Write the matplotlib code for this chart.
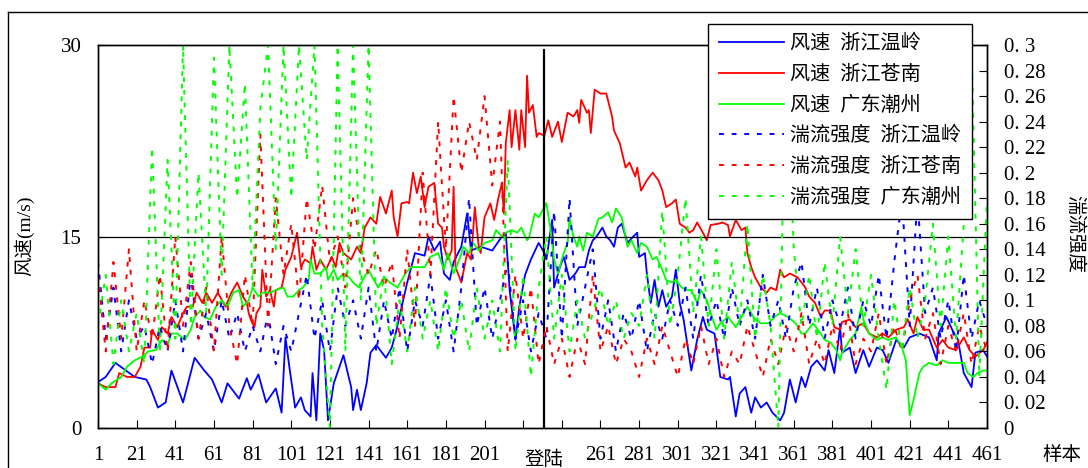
import numpy as np
import matplotlib
matplotlib.use("Agg")
import matplotlib.pyplot as plt
from matplotlib.lines import Line2D

plt.rcParams['font.family'] = ['Liberation Serif', 'Noto Sans CJK SC']

# wind speed (m/s), sample index -> value
wl_x = [1, 5, 10, 20, 26, 28, 32, 36, 39, 45, 51, 56, 60, 65, 68, 74, 78, 80, 84, 88,
        93, 96, 98, 100, 103, 106, 108, 111, 112, 114, 116, 118, 120, 123, 128, 132, 133, 135, 137, 140,
        142, 145, 150, 153, 155, 161, 165, 170, 172, 175, 178, 180, 183, 185, 189, 192, 194, 199, 205, 210,
        212, 214, 217, 219, 222, 225, 229, 232, 233, 236, 237, 240, 242, 245, 248, 250, 253, 255, 257, 259,
        262, 264, 266, 268, 270, 272, 275, 278, 280, 281, 284, 285, 287, 289, 291, 293, 295, 298, 300, 302,
        304, 308, 311, 314, 316, 320, 323, 327, 328, 331, 333, 336, 339, 341, 344, 347, 350, 354, 356, 359,
        362, 365, 367, 370, 373, 377, 379, 382, 385, 386, 390, 393, 397, 400, 404, 407, 410, 414, 418, 421,
        426, 431, 435, 436, 440, 443, 446, 449, 453, 455, 459, 461]
wl_v = [3.6, 4.0, 5.1, 4.0, 3.8, 3.2, 1.6, 2.0, 4.5, 2.0, 5.5, 4.5, 3.8, 2.0, 3.5, 2.3, 3.9, 3.0, 4.2, 2.0,
        3.1, 1.2, 7.1, 4.8, 1.6, 2.4, 1.4, 0.9, 4.3, 0.6, 7.4, 6.1, 0.6, 3.5, 5.7, 3.2, 1.4, 3.0, 1.4, 3.5,
        5.9, 6.5, 5.5, 6.3, 7.4, 11.4, 13.7, 13.5, 15.0, 13.9, 14.6, 12.1, 11.6, 13.0, 14.2, 16.8, 13.9, 14.2, 13.9, 15.0,
        15.3, 10.8, 6.9, 9.5, 12.0, 13.2, 14.5, 13.7, 13.2, 16.3, 11.0, 12.6, 13.4, 11.6, 12.1, 12.6, 12.6, 13.9, 14.7, 15.0,
        15.7, 15.0, 14.7, 14.2, 15.7, 16.0, 14.5, 15.0, 15.3, 13.4, 13.7, 12.1, 9.8, 11.6, 9.5, 10.8, 9.5, 10.3, 12.4, 9.8,
        8.5, 4.5, 6.9, 8.7, 7.7, 7.4, 4.0, 3.8, 4.0, 0.9, 2.7, 3.2, 1.2, 2.4, 1.6, 2.0, 1.2, 0.6, 1.2, 3.8,
        2.0, 4.0, 3.2, 4.8, 5.3, 4.5, 6.1, 4.3, 7.9, 5.9, 6.3, 4.3, 6.1, 4.8, 6.3, 6.1, 5.1, 6.9, 6.3, 7.1,
        7.4, 7.1, 5.3, 7.4, 8.7, 7.7, 6.9, 4.3, 3.2, 5.9, 6.1, 5.6]

cn_x = [1, 5, 10, 12, 16, 20, 23, 25, 28, 29, 32, 34, 37, 39, 42, 45, 47, 50, 52, 55,
        57, 60, 63, 67, 70, 73, 76, 78, 79, 80, 82, 83, 85, 86, 88, 90, 92, 93, 96, 98,
        101, 104, 106, 108, 111, 112, 114, 116, 119, 122, 124, 126, 128, 132, 135, 137, 139, 142, 145, 147,
        150, 153, 154, 156, 158, 161, 162, 164, 166, 168, 170, 172, 175, 177, 179, 180, 182, 184, 185, 186,
        189, 192, 194, 196, 198, 199, 201, 204, 206, 208, 210, 211, 212, 214, 215, 217, 219, 220, 222, 223,
        224, 226, 228, 229, 232, 234, 236, 239, 241, 244, 247, 249, 250, 251, 254, 255, 256, 258, 261, 264,
        267, 268, 271, 274, 276, 279, 280, 282, 285, 288, 291, 293, 295, 298, 300, 302, 305, 307, 309, 311,
        314, 316, 318, 322, 324, 327, 328, 331, 334, 336, 337, 339, 341, 344, 347, 349, 352, 354, 356, 359,
        363, 367, 369, 372, 375, 377, 380, 382, 385, 386, 390, 393, 397, 400, 404, 407, 410, 414, 418, 420,
        423, 425, 428, 431, 435, 438, 441, 445, 449, 452, 455, 459, 461]
cn_v = [3.5, 3.2, 3.2, 4.3, 4.0, 4.0, 4.8, 6.3, 6.3, 7.7, 6.9, 7.9, 7.4, 8.7, 7.9, 9.0, 9.5, 9.5, 10.6, 9.8,
        10.6, 9.8, 10.6, 9.5, 10.6, 11.4, 10.3, 9.8, 9.0, 8.5, 7.9, 9.0, 9.5, 12.4, 10.3, 10.8, 9.5, 10.8, 11.0, 12.4,
        13.4, 15.3, 12.6, 13.2, 12.9, 14.2, 12.4, 13.2, 12.4, 13.4, 12.6, 14.5, 13.7, 13.2, 14.2, 13.7, 15.7, 16.5, 16.0, 18.1,
        16.8, 18.6, 16.5, 15.0, 17.6, 17.7, 17.6, 20.0, 18.4, 19.7, 17.3, 18.9, 19.2, 16.0, 15.7, 14.2, 13.2, 13.9, 18.9, 12.6,
        11.4, 13.7, 13.2, 17.3, 14.2, 13.7, 16.5, 17.6, 16.3, 17.9, 19.2, 16.8, 22.3, 24.9, 22.0, 24.9, 21.8, 24.9, 22.0, 27.6,
        24.7, 25.3, 22.8, 23.1, 22.9, 24.1, 22.8, 24.0, 22.4, 24.7, 24.4, 24.9, 23.9, 25.7, 24.7, 24.9, 23.1, 26.5, 26.2, 26.2,
        24.4, 23.3, 22.3, 20.4, 20.8, 19.7, 20.4, 18.6, 19.4, 20.0, 19.4, 18.6, 17.3, 17.6, 17.9, 16.0, 15.7, 15.3, 15.5, 16.1,
        15.3, 14.7, 15.9, 16.0, 16.1, 15.9, 15.0, 16.3, 15.5, 15.7, 13.7, 12.6, 11.8, 11.0, 10.6, 11.0, 10.8, 12.4, 11.8, 12.1,
        11.8, 11.0, 10.3, 9.8, 8.7, 9.2, 9.2, 7.9, 7.7, 8.3, 8.5, 7.9, 8.2, 7.4, 7.1, 7.4, 7.1, 7.7, 7.9, 8.5,
        7.4, 8.7, 7.7, 7.7, 6.3, 6.9, 6.3, 6.1, 7.1, 6.1, 5.6, 6.1, 6.7]

cz_x = [1, 5, 8, 13, 16, 20, 24, 27, 31, 34, 37, 39, 42, 46, 49, 51, 54, 56, 59, 62,
        65, 68, 71, 74, 76, 79, 81, 84, 86, 90, 93, 97, 99, 102, 105, 107, 110, 111, 113, 116,
        119, 120, 123, 125, 128, 131, 133, 136, 138, 141, 143, 146, 149, 152, 156, 160, 163, 167, 170, 173,
        177, 180, 182, 185, 188, 190, 193, 195, 198, 201, 205, 207, 210, 212, 215, 218, 220, 223, 224, 227,
        229, 232, 233, 235, 237, 239, 241, 242, 244, 245, 247, 249, 250, 252, 254, 257, 260, 262, 265, 267,
        269, 272, 275, 277, 280, 282, 285, 288, 290, 293, 295, 298, 300, 303, 306, 308, 311, 313, 316, 318,
        321, 323, 327, 331, 334, 337, 341, 344, 348, 351, 354, 358, 362, 365, 367, 371, 375, 377, 380, 383,
        385, 386, 390, 393, 396, 397, 400, 404, 407, 410, 414, 417, 419, 420, 421, 423, 426, 428, 431, 435,
        438, 441, 445, 449, 451, 454, 456, 459, 461]
cz_v = [3.5, 3.0, 3.5, 4.0, 4.8, 5.3, 5.6, 6.0, 6.1, 6.9, 6.5, 7.4, 7.4, 6.9, 7.7, 8.7, 9.2, 8.7, 8.5, 9.5,
        10.0, 9.5, 10.6, 10.8, 9.5, 10.0, 11.0, 10.3, 10.6, 10.6, 10.8, 11.0, 10.3, 10.3, 10.8, 11.0, 11.6, 13.2, 12.1, 12.1,
        12.6, 11.6, 12.4, 11.6, 12.1, 11.8, 11.4, 11.0, 11.6, 12.4, 11.8, 11.0, 11.8, 11.4, 11.0, 12.1, 12.6, 12.6, 12.6, 13.4,
        13.7, 12.4, 13.7, 12.1, 13.2, 14.2, 13.7, 14.5, 13.9, 14.5, 14.7, 15.5, 15.0, 15.3, 15.5, 15.3, 15.7, 14.7, 14.9, 16.8,
        16.5, 17.3, 17.6, 15.7, 13.2, 12.1, 13.2, 13.7, 14.5, 16.5, 15.0, 14.2, 15.0, 13.9, 15.3, 15.0, 16.4, 16.5, 16.9, 16.1,
        17.2, 16.5, 14.2, 14.7, 13.7, 14.5, 14.2, 13.2, 13.4, 12.4, 11.6, 11.4, 11.6, 11.0, 10.8, 10.8, 9.8, 10.8, 10.0, 9.0,
        7.7, 8.2, 8.7, 7.9, 8.7, 9.5, 8.5, 8.2, 8.2, 8.7, 9.0, 8.7, 8.2, 7.4, 7.4, 8.2, 7.4, 6.9, 6.7, 6.1,
        5.3, 5.9, 6.9, 7.4, 9.5, 8.5, 7.4, 6.9, 7.1, 6.9, 7.1, 6.3, 5.3, 3.2, 1.0, 2.2, 4.3, 4.8, 5.1, 4.9,
        5.3, 5.1, 5.1, 5.1, 4.3, 4.0, 4.3, 4.5, 4.5]

# turbulence intensity, every 4th sample (1, 5, 9, ..., 461)
turb_x = np.arange(1, 462, 4)
wl_t = [0.13, 0.07, 0.11, 0.06, 0.10, 0.07, 0.08, 0.05, 0.08, 0.06, 0.10, 0.06, 0.12, 0.07, 0.09, 0.06, 0.10, 0.07, 0.09, 0.06,
        0.08, 0.06, 0.09, 0.05, 0.08, 0.06, 0.09, 0.12, 0.07, 0.10, 0.06, 0.11, 0.08, 0.10, 0.07, 0.11, 0.06, 0.10, 0.07, 0.11,
        0.06, 0.10, 0.08, 0.12, 0.07, 0.10, 0.06, 0.11, 0.18, 0.08, 0.11, 0.07, 0.10, 0.13, 0.07, 0.10, 0.06, 0.09, 0.07, 0.17,
        0.07, 0.18, 0.08, 0.11, 0.14, 0.07, 0.10, 0.06, 0.09, 0.07, 0.10, 0.06, 0.09, 0.07, 0.10, 0.08, 0.11, 0.07, 0.12, 0.08,
        0.10, 0.07, 0.11, 0.08, 0.10, 0.07, 0.12, 0.08, 0.10, 0.07, 0.11, 0.13, 0.08, 0.11, 0.07, 0.10, 0.08, 0.11, 0.07, 0.10,
        0.08, 0.12, 0.07, 0.13, 0.18, 0.08, 0.18, 0.09, 0.11, 0.07, 0.10, 0.06, 0.12, 0.07, 0.10, 0.08]
cn_t = [0.12, 0.06, 0.13, 0.07, 0.14, 0.06, 0.10, 0.07, 0.12, 0.06, 0.15, 0.08, 0.13, 0.07, 0.11, 0.06, 0.15, 0.08, 0.05, 0.12,
        0.08, 0.23, 0.08, 0.18, 0.12, 0.16, 0.10, 0.18, 0.14, 0.19, 0.13, 0.15, 0.11, 0.18, 0.14, 0.12, 0.14, 0.11, 0.13, 0.07,
        0.14, 0.08, 0.20, 0.12, 0.24, 0.14, 0.26, 0.20, 0.24, 0.21, 0.26, 0.19, 0.24, 0.06, 0.12, 0.07, 0.11, 0.05, 0.08, 0.05,
        0.07, 0.04, 0.07, 0.05, 0.12, 0.06, 0.08, 0.05, 0.07, 0.06, 0.04, 0.07, 0.05, 0.08, 0.06, 0.04, 0.07, 0.05, 0.08, 0.05,
        0.07, 0.04, 0.06, 0.05, 0.08, 0.06, 0.04, 0.07, 0.05, 0.08, 0.06, 0.09, 0.05, 0.07, 0.05, 0.08, 0.06, 0.09, 0.05, 0.07,
        0.06, 0.09, 0.05, 0.08, 0.06, 0.10, 0.12, 0.07, 0.09, 0.05, 0.08, 0.06, 0.09, 0.05, 0.08, 0.06]
cz_t = [0.08, 0.12, 0.05, 0.10, 0.06, 0.09, 0.05, 0.22, 0.06, 0.21, 0.07, 0.30, 0.08, 0.20, 0.09, 0.29, 0.12, 0.30, 0.18, 0.27,
        0.11, 0.25, 0.30, 0.14, 0.30, 0.18, 0.30, 0.21, 0.30, 0.08, 0.00, 0.30, 0.06, 0.30, 0.10, 0.30, 0.08, 0.12, 0.05, 0.10,
        0.06, 0.11, 0.07, 0.10, 0.06, 0.11, 0.07, 0.10, 0.06, 0.11, 0.07, 0.10, 0.06, 0.21, 0.06, 0.12, 0.04, 0.11, 0.15, 0.07,
        0.12, 0.06, 0.10, 0.07, 0.09, 0.11, 0.08, 0.10, 0.07, 0.09, 0.08, 0.12, 0.07, 0.17, 0.08, 0.12, 0.18, 0.09, 0.15, 0.08,
        0.14, 0.07, 0.13, 0.08, 0.16, 0.07, 0.12, 0.08, 0.00, 0.30, 0.14, 0.08, 0.12, 0.07, 0.13, 0.08, 0.15, 0.09, 0.14, 0.08,
        0.12, 0.07, 0.03, 0.10, 0.06, 0.11, 0.07, 0.10, 0.16, 0.08, 0.15, 0.07, 0.16, 0.30, 0.04, 0.18]

landing = 232
xticks = list(range(1, 462, 20))
xlabels = ['' if t in (221, 241) else str(t) for t in xticks]

W, H = 1088, 468
fig = plt.figure(figsize=(W / 100, H / 100), dpi=100)
ax = fig.add_axes([98 / W, 1 - 428 / H, (987 - 98) / W, (428 - 45) / H])
ax2 = ax.twinx()

lw_solid = 1.3
lw_dash = 1.4
dash = (0, (2.5, 4))
h1, = ax.plot(wl_x, wl_v, color='#0000ff', lw=lw_solid)
h2, = ax.plot(cn_x, cn_v, color='#ff0000', lw=lw_solid)
h3, = ax.plot(cz_x, cz_v, color='#00ff00', lw=lw_solid)
h4, = ax2.plot(turb_x, wl_t, color='#0000ff', lw=lw_dash, ls=dash)
h5, = ax2.plot(turb_x, cn_t, color='#ff0000', lw=lw_dash, ls=dash)
h6, = ax2.plot(turb_x, cz_t, color='#00ff00', lw=lw_dash, ls=dash)

ax.axhline(15, color='black', lw=0.9)
ax.plot([landing, landing], [0, 29.6], color='black', lw=1.6)

ax.set_xlim(1, 461)
ax.set_ylim(0, 30)
ax2.set_ylim(0, 0.3)
ax.set_xticks(xticks)
ax.set_xticklabels(xlabels, fontsize=15)
ax.set_yticks([0, 15, 30])
ax.set_yticklabels(['0', '15', '30'], fontsize=15)
rt = np.round(np.arange(0, 0.301, 0.02), 2)
ax2.set_yticks(rt)
ax2.set_yticklabels([('%g' % v).replace('.', '. ') for v in rt], fontsize=15)

ax.tick_params(axis='x', direction='in', length=6, pad=13)
ax.tick_params(axis='y', direction='in', length=6, pad=12)
ax2.tick_params(axis='y', direction='in', length=6, pad=12)
for a in (ax, ax2):
    for s in a.spines.values():
        s.set_linewidth(1.0)
        s.set_color('black')

ax.annotate('登陆', xy=(landing, 0), xycoords=('data', 'axes fraction'),
            xytext=(0, -16), textcoords='offset points', ha='center', va='top', fontsize=14)

fig.text(24 / W, 1 - 236 / H, '风速(m/s)', rotation=90, ha='center', va='center', fontsize=14)
fig.text(1075 / W, 1 - 234 / H, '湍流强度', rotation=270, ha='center', va='center', fontsize=14)
fig.text(1062 / W, 1 - 455 / H, '样本', ha='center', va='center', fontsize=14)

labels = ['风速  浙江温岭', '风速  浙江苍南', '风速  广东潮州',
          '湍流强度  浙江温岭', '湍流强度  浙江苍南', '湍流强度  广东潮州']
leg = ax2.legend([h1, h2, h3, h4, h5, h6], labels, loc='upper left',
                 bbox_to_anchor=(708 / W, 1 - 24 / H), bbox_transform=fig.transFigure,
                 fancybox=False, edgecolor='black', framealpha=1, borderaxespad=0,
                 fontsize=14.5, handlelength=3.2, handletextpad=0.3, labelspacing=0.57,
                 borderpad=0.55)
leg.get_frame().set_linewidth(1.0)
leg.set_zorder(10)

fig.add_artist(Line2D([8 / W, 8 / W], [0, 1 - 12 / H], color='black', lw=1.0))
fig.add_artist(Line2D([8 / W, 1], [1 - 12 / H, 1 - 12 / H], color='black', lw=1.0))

fig.savefig('out.png', dpi=100)
